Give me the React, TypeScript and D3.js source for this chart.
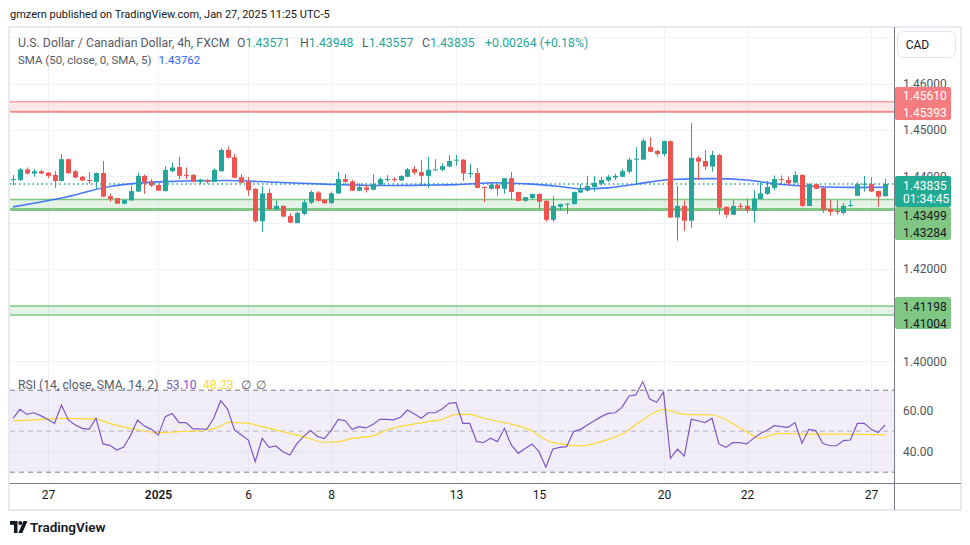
import React from 'react';
import * as d3 from 'd3';

const opens = [1.4393,1.4392,1.4415,1.4406,1.4411,1.4408,1.4403,1.4390,1.4437,1.4411,1.4399,1.4392,1.4388,1.4407,1.4357,1.4353,1.4341,1.4348,1.4367,1.4401,1.4389,1.4381,1.4368,1.4411,1.4420,1.4403,1.4403,1.4388,1.4392,1.4388,1.4411,1.4457,1.4441,1.4398,1.4388,1.4373,1.4303,1.4364,1.4329,1.4336,1.4314,1.4299,1.4319,1.4343,1.4365,1.4349,1.4342,1.4363,1.4394,1.4389,1.4369,1.4376,1.4371,1.4382,1.4393,1.4394,1.4391,1.4399,1.4416,1.4409,1.4401,1.4414,1.4414,1.4421,1.4435,1.4436,1.4406,1.4407,1.4377,1.4373,1.4382,1.4373,1.4396,1.4366,1.4347,1.4353,1.4362,1.4347,1.4306,1.4334,1.4339,1.4340,1.4365,1.4369,1.4377,1.4384,1.4391,1.4397,1.4399,1.4410,1.4437,1.4436,1.4463,1.4455,1.4448,1.4476,1.4311,1.4336,1.4304,1.4440,1.4433,1.4421,1.4446,1.4334,1.4317,1.4336,1.4336,1.4326,1.4351,1.4362,1.4375,1.4394,1.4392,1.4386,1.4403,1.4336,1.4383,1.4375,1.4329,1.4325,1.4321,1.4337,1.4358,1.4383,1.4383,1.4368,1.43571];
const highs = [1.4403,1.4418,1.4419,1.4416,1.4414,1.4409,1.4411,1.4448,1.4438,1.4414,1.4401,1.4409,1.4408,1.4433,1.4362,1.4354,1.4350,1.4380,1.4407,1.4404,1.4394,1.4382,1.4422,1.4430,1.4442,1.4419,1.4405,1.4395,1.4394,1.4417,1.4461,1.4464,1.4448,1.4405,1.4398,1.4374,1.4378,1.4373,1.4348,1.4337,1.4320,1.4323,1.4349,1.4370,1.4368,1.4351,1.4367,1.4409,1.4405,1.4392,1.4385,1.4381,1.4405,1.4398,1.4403,1.4398,1.4402,1.4418,1.4422,1.4435,1.4442,1.4437,1.4428,1.4446,1.4446,1.4437,1.4427,1.4418,1.4378,1.4387,1.4383,1.4396,1.4409,1.4367,1.4355,1.4362,1.4363,1.4348,1.4357,1.4341,1.4342,1.4367,1.4383,1.4401,1.4401,1.4399,1.4403,1.4406,1.4416,1.4440,1.4463,1.4482,1.4484,1.4457,1.4477,1.4477,1.4379,1.4348,1.4515,1.4444,1.4457,1.4455,1.4448,1.4335,1.4348,1.4342,1.4352,1.4370,1.4390,1.4390,1.4402,1.4402,1.4400,1.4411,1.4404,1.4386,1.4384,1.4376,1.4349,1.4348,1.4342,1.4348,1.4388,1.4401,1.4398,1.4369,1.43948];
const lows = [1.4380,1.4390,1.4403,1.4399,1.4405,1.4396,1.4375,1.4389,1.4405,1.4396,1.4390,1.4384,1.4373,1.4355,1.4345,1.4340,1.4339,1.4347,1.4366,1.4362,1.4377,1.4368,1.4367,1.4409,1.4394,1.4394,1.4387,1.4383,1.4384,1.4387,1.4410,1.4439,1.4396,1.4385,1.4358,1.4300,1.4280,1.4327,1.4327,1.4311,1.4299,1.4298,1.4316,1.4340,1.4346,1.4341,1.4340,1.4362,1.4382,1.4368,1.4368,1.4365,1.4370,1.4381,1.4388,1.4388,1.4390,1.4398,1.4403,1.4380,1.4375,1.4413,1.4411,1.4420,1.4423,1.4390,1.4397,1.4374,1.4344,1.4371,1.4358,1.4362,1.4349,1.4346,1.4345,1.4349,1.4329,1.4302,1.4302,1.4327,1.4319,1.4339,1.4364,1.4367,1.4367,1.4381,1.4388,1.4392,1.4398,1.4406,1.4385,1.4435,1.4452,1.4443,1.4443,1.4310,1.4261,1.4282,1.4289,1.4392,1.4414,1.4410,1.4317,1.4311,1.4316,1.4327,1.4321,1.4300,1.4350,1.4360,1.4370,1.4381,1.4381,1.4385,1.4334,1.4335,1.4372,1.4321,1.4315,1.4317,1.4317,1.4334,1.4357,1.4367,1.4366,1.4334,1.43557];
const closes = [1.4394,1.4415,1.4406,1.4411,1.4406,1.4401,1.4390,1.4437,1.4407,1.4397,1.4391,1.4390,1.4407,1.4356,1.4351,1.4341,1.4349,1.4368,1.4401,1.4388,1.4380,1.4369,1.4414,1.4419,1.4401,1.4401,1.4388,1.4393,1.4388,1.4414,1.4457,1.4440,1.4397,1.4386,1.4370,1.4303,1.4363,1.4329,1.4336,1.4313,1.4300,1.4321,1.4344,1.4366,1.4347,1.4342,1.4363,1.4394,1.4388,1.4369,1.4377,1.4371,1.4383,1.4394,1.4394,1.4393,1.4401,1.4415,1.4408,1.4401,1.4414,1.4415,1.4422,1.4433,1.4436,1.4406,1.4407,1.4375,1.4376,1.4382,1.4373,1.4396,1.4366,1.4347,1.4355,1.4362,1.4345,1.4306,1.4336,1.4340,1.4341,1.4366,1.4371,1.4379,1.4386,1.4392,1.4399,1.4401,1.4411,1.4436,1.4438,1.4477,1.4453,1.4448,1.4476,1.4311,1.4336,1.4304,1.4440,1.4432,1.4421,1.4446,1.4332,1.4317,1.4336,1.4335,1.4326,1.4352,1.4363,1.4377,1.4394,1.4393,1.4385,1.4403,1.4336,1.4383,1.4373,1.4327,1.4323,1.4324,1.4336,1.4338,1.4383,1.4384,1.4367,1.4356,1.43835];

const rsiValues = [56.3,60.7,58.2,59.0,57.6,55.8,53.8,62.8,55.5,53.0,51.4,50.9,56.3,43.8,43.1,40.8,42.3,48.0,55.5,52.5,50.9,48.1,57.1,58.6,54.2,54.2,51.1,51.2,50.9,56.3,64.9,60.8,50.6,48.1,45.7,35.1,46.5,42.1,42.8,40.0,38.4,43.8,47.5,50.3,47.4,46.4,50.5,55.8,55.1,50.9,52.2,51.6,53.3,55.8,55.8,55.5,56.8,60.3,58.4,56.3,59.0,59.0,60.8,63.6,63.9,53.8,53.8,44.9,44.5,46.6,44.9,51.4,43.3,39.2,41.6,43.8,40.0,32.4,41.3,42.1,42.5,49.8,50.9,53.0,55.1,57.1,58.7,59.0,61.6,67.2,67.7,74.2,65.7,64.1,69.0,36.8,41.2,37.9,55.8,55.1,54.2,56.3,43.8,42.1,44.4,44.4,43.8,46.5,48.9,50.6,52.7,52.2,51.9,54.2,44.1,50.9,50.3,44.1,42.9,42.9,45.4,45.7,53.8,53.8,50.9,49.3,53.1];

const smaIdx = [0,7,14,21,31,38,45,53,60,64,70,75,79,82,86,90,95,101,106,110,116,121,126];
const smaVal = [1.4334,1.4353,1.4378,1.4388,1.4391,1.4387,1.4383,1.4380,1.4381,1.4382,1.4386,1.4383,1.4378,1.4373,1.4375,1.4383,1.4393,1.4395,1.4392,1.4384,1.4378,1.4376,1.43762];

// [bar index, value]
const rsiSmaIdx = [0,3,7,12,14,18,21,24,28,30,31,34,36,39,42,45,47,49,52,54,57,60,62,64,66,68,71,75,77,79,82,85,88,91,94,97,101,106,108,110,111,114,120,126];
const rsiSmaVal = [55.1,55.5,56.3,55.9,53.8,50.6,49.3,49.8,50.6,52.5,54.3,53.8,52.2,49.8,47.3,44.6,44.9,46.5,47.7,50.6,53.0,54.7,55.8,58.2,58.2,56.3,54.2,50.1,45.7,43.8,42.8,44.9,48.6,55.5,60.7,58.2,57.9,49.8,46.5,48.6,48.9,48.6,48.6,48.23];

const priceTicks = [1.40,1.42,1.44,1.45,1.46];
const gridTicks = [1.40,1.41,1.42,1.43,1.44,1.45,1.46,1.47];
const rsiTicks = [60,40];
const timeTickIdx = [5,21,34,46,64,76,94,106,124];
const timeTickLabels = ['27','2025','6','8','13','15','20','22','27'];

const redZone = [1.45610, 1.45393];
const greenZones = [[1.43499, 1.43284], [1.41198, 1.41004]];
const lastPrice = 1.43835;
const countdown = '01:34:45';

const FONT = 'Roboto, "Liberation Sans", sans-serif';
const UP = '#26a69a';
const DOWN = '#ef5350';

export default function App() {
  const n = closes.length;
  const left = 10, right = 894, mainTop = 28, mainBottom = 370, rsiTop = 371, rsiBottom = 483;
  const x = d3.scaleLinear().domain([0, n - 1]).range([13, 885]);
  const y = d3.scaleLinear().domain([1.39816, 1.47225]).range([mainBottom, 27]);
  const yr = d3.scaleLinear().domain([24.73, 79.37]).range([rsiBottom, rsiTop]);

  const smaLine = d3.line<number>().x((d, i) => x(smaIdx[i])).y((d) => y(d)).curve(d3.curveMonotoneX);
  const rsiLine = d3.line<number>().x((d, i) => x(i)).y((d) => yr(d));
  const rsiSmaLine = d3.line<number>().x((d, i) => x(rsiSmaIdx[i])).y((d) => yr(d)).curve(d3.curveMonotoneX);

  const bw = 5;
  const candles = closes.map((c, i) => {
    const o = opens[i];
    const up = c >= o;
    const col = up ? UP : DOWN;
    const cx = Math.round(x(i)) + 0.5;
    const top = y(Math.max(o, c));
    const bot = y(Math.min(o, c));
    return (
      <g key={i}>
        <line x1={cx} x2={cx} y1={y(highs[i])} y2={y(lows[i])} stroke={col} strokeWidth={1} />
        <rect x={cx - bw / 2} y={top} width={bw} height={Math.max(1, bot - top)} fill={col} />
      </g>
    );
  });

  const boxX = 895, boxW = 56;
  const tickX = timeTickIdx.map((i) => Math.round(x(i)) + 0.5);
  const gray = '#555a66';

  return (
    <svg width={970} height={545} style={{ position: 'absolute', left: 0, top: 0, background: '#fff' }} fontFamily={FONT}>
      <defs>
        <clipPath id="mainClip"><rect x={left} y={mainTop} width={right - left} height={mainBottom - mainTop} /></clipPath>
        <clipPath id="rsiClip"><rect x={left} y={rsiTop} width={right - left} height={rsiBottom - rsiTop} /></clipPath>
        <clipPath id="axisClip"><rect x={895} y={60} width={66} height={116} /></clipPath>
      </defs>
      <rect x={0} y={0} width={970} height={545} fill="#fff" />
      <text x={10} y={18} fontSize={11} fill="#131722">gmzern published on TradingView.com, Jan 27, 2025 11:25 UTC-5</text>

      {/* frame */}
      <rect x={9} y={27} width={952} height={483} fill="none" stroke="#e0e3eb" strokeWidth={1.5} />

      {/* grid */}
      {gridTicks.map((p) => (
        <line key={p} x1={left} x2={right} y1={Math.round(y(p)) + 0.5} y2={Math.round(y(p)) + 0.5} stroke="#f0f3fa" />
      ))}
      {tickX.map((tx, k) => (
        <line key={k} x1={tx} x2={tx} y1={mainTop} y2={rsiBottom} stroke="#f0f3fa" />
      ))}

      {/* zones */}
      <g clipPath="url(#mainClip)">
        <rect x={left} y={y(redZone[0])} width={right - left} height={y(redZone[1]) - y(redZone[0])} fill="rgba(242,54,69,0.12)" />
        <line x1={left} x2={right} y1={y(redZone[0])} y2={y(redZone[0])} stroke="#f7a1a5" strokeWidth={1.5} />
        <line x1={left} x2={right} y1={y(redZone[1])} y2={y(redZone[1])} stroke="#f28b90" strokeWidth={2} />
        {greenZones.map((z, k) => (
          <g key={k}>
            <rect x={left} y={y(z[0])} width={right - left} height={y(z[1]) - y(z[0])} fill="rgba(76,175,80,0.15)" />
            <line x1={left} x2={right} y1={y(z[0])} y2={y(z[0])} stroke="#81c784" strokeWidth={1.5} />
            <line x1={left} x2={right} y1={y(z[1])} y2={y(z[1])} stroke="#81c784" strokeWidth={k === 0 ? 3 : 1.5} />
          </g>
        ))}
        <line x1={left} x2={right} y1={y(lastPrice)} y2={y(lastPrice)} stroke={UP} strokeWidth={1.5} strokeDasharray="1.5 3" />
        <path d={smaLine(smaVal) || ''} fill="none" stroke="#2962ff" strokeWidth={1.6} strokeOpacity={0.85} />
        {candles}
      </g>

      {/* legend */}
      <text y={46.5} fontSize={12.3}>
        <tspan x={18} fill={gray}>U.S. Dollar / Canadian Dollar, 4h, FXCM</tspan>
        <tspan x={237} fill={gray}>O</tspan><tspan fill={UP}>1.43571</tspan>
        <tspan x={300} fill={gray}>H</tspan><tspan fill={UP}>1.43948</tspan>
        <tspan x={362} fill={gray}>L</tspan><tspan fill={UP}>1.43557</tspan>
        <tspan x={422} fill={gray}>C</tspan><tspan fill={UP}>1.43835</tspan>
        <tspan x={485} fill={UP}>+0.00264 (+0.18%)</tspan>
      </text>
      <text y={63.5} fontSize={11.5}>
        <tspan x={18} fill={gray}>SMA (50, close, 0, SMA, 5)</tspan>
        <tspan dx={7} fill="#2962ff">1.43762</tspan>
      </text>

      {/* RSI pane */}
      <rect x={left} y={yr(70)} width={right - left} height={yr(30) - yr(70)} fill="rgba(126,87,194,0.1)" />
      {rsiTicks.map((v) => (
        <line key={v} x1={left} x2={right} y1={yr(v)} y2={yr(v)} stroke="#e6e1f2" />
      ))}
      <line x1={left} x2={right} y1={yr(70)} y2={yr(70)} stroke="#787b86" strokeDasharray="5 4" />
      <line x1={left} x2={right} y1={yr(50)} y2={yr(50)} stroke="#787b86" strokeOpacity={0.5} strokeDasharray="5 4" />
      <line x1={left} x2={right} y1={yr(30)} y2={yr(30)} stroke="#787b86" strokeDasharray="5 4" />
      <g clipPath="url(#rsiClip)">
        <path d={rsiSmaLine(rsiSmaVal) || ''} fill="none" stroke="#fdd835" strokeWidth={1.2} />
        <path d={rsiLine(rsiValues) || ''} fill="none" stroke="#7e57c2" strokeWidth={1.2} />
      </g>
      <text y={388.5} fontSize={12.2}>
        <tspan x={18} fill={gray}>RSI (14, close, SMA, 14, 2)</tspan>
        <tspan x={166} fill="#7e57c2">53.10</tspan>
        <tspan x={203} fill="#fdd835">48.23</tspan>
        <tspan x={241} fill={gray}>∅</tspan>
        <tspan x={256} fill={gray}>∅</tspan>
      </text>

      {/* axes lines */}
      <line x1={right + 0.5} x2={right + 0.5} y1={27} y2={510} stroke="#787b86" />
      <line x1={left} x2={961} y1={rsiBottom + 0.5} y2={rsiBottom + 0.5} stroke="#787b86" />

      {/* price axis labels (the 1.44 label is partly covered by the last-price box, as in the original) */}
      {priceTicks.map((p) => (
        <text key={p} x={903} y={y(p)} dy="0.35em" fontSize={12} fill="#50535e" clipPath={p === 1.44 ? 'url(#axisClip)' : undefined}>{p.toFixed(5)}</text>
      ))}
      {rsiTicks.map((v) => (
        <text key={v} x={903} y={yr(v)} dy="0.35em" fontSize={12} fill="#50535e">{v.toFixed(2)}</text>
      ))}

      {/* price axis boxes */}
      <rect x={boxX} y={87} width={boxW} height={33} fill="#f77c80" rx={2} />
      <text x={903} y={96} dy="0.35em" fontSize={12} fill="#fff">{redZone[0].toFixed(5)}</text>
      <text x={903} y={113} dy="0.35em" fontSize={12} fill="#fff">{redZone[1].toFixed(5)}</text>

      <rect x={boxX} y={176} width={boxW} height={31} fill="#22ab94" rx={2} />
      <text x={903} y={185.3} dy="0.35em" fontSize={12} fill="#fff">{lastPrice.toFixed(5)}</text>
      <text x={903} y={199} dy="0.35em" fontSize={12} fill="#fff">{countdown}</text>

      <rect x={boxX} y={207} width={boxW} height={33} fill="#81c784" rx={2} />
      <text x={903} y={215.7} dy="0.35em" fontSize={12} fill="#131722">{greenZones[0][0].toFixed(5)}</text>
      <text x={903} y={232.7} dy="0.35em" fontSize={12} fill="#131722">{greenZones[0][1].toFixed(5)}</text>

      <rect x={boxX} y={297} width={boxW} height={32} fill="#81c784" rx={2} />
      <text x={903} y={306.7} dy="0.35em" fontSize={12} fill="#131722">{greenZones[1][0].toFixed(5)}</text>
      <text x={903} y={324} dy="0.35em" fontSize={12} fill="#131722">{greenZones[1][1].toFixed(5)}</text>

      {/* CAD button */}
      <rect x={897.5} y={31.5} width={58} height={26} rx={6} fill="#fff" stroke="#e0e3eb" />
      <text x={917.5} y={44.5} dy="0.35em" textAnchor="middle" fontSize={12} fill="#131722">CAD</text>

      {/* time axis labels */}
      {timeTickLabels.map((t, k) => (
        <text key={k} x={tickX[k]} y={495} dy="0.35em" textAnchor="middle" fontSize={12} fill="#131722" fontWeight={t === '2025' ? 600 : 400}>{t}</text>
      ))}

      {/* TradingView logo */}
      <g fill="#131722">
        <path d="M10 521 h7.5 v12 h-3.6 v-8.2 h-3.9 z" />
        <circle cx={20.2} cy={523} r={2} />
        <path d="M23.5 521 h4 l-5.2 12 h-4 z" />
      </g>
      <text x={30} y={532} fontSize={13.5} fontWeight={600} fill="#131722">TradingView</text>
    </svg>
  );
}
